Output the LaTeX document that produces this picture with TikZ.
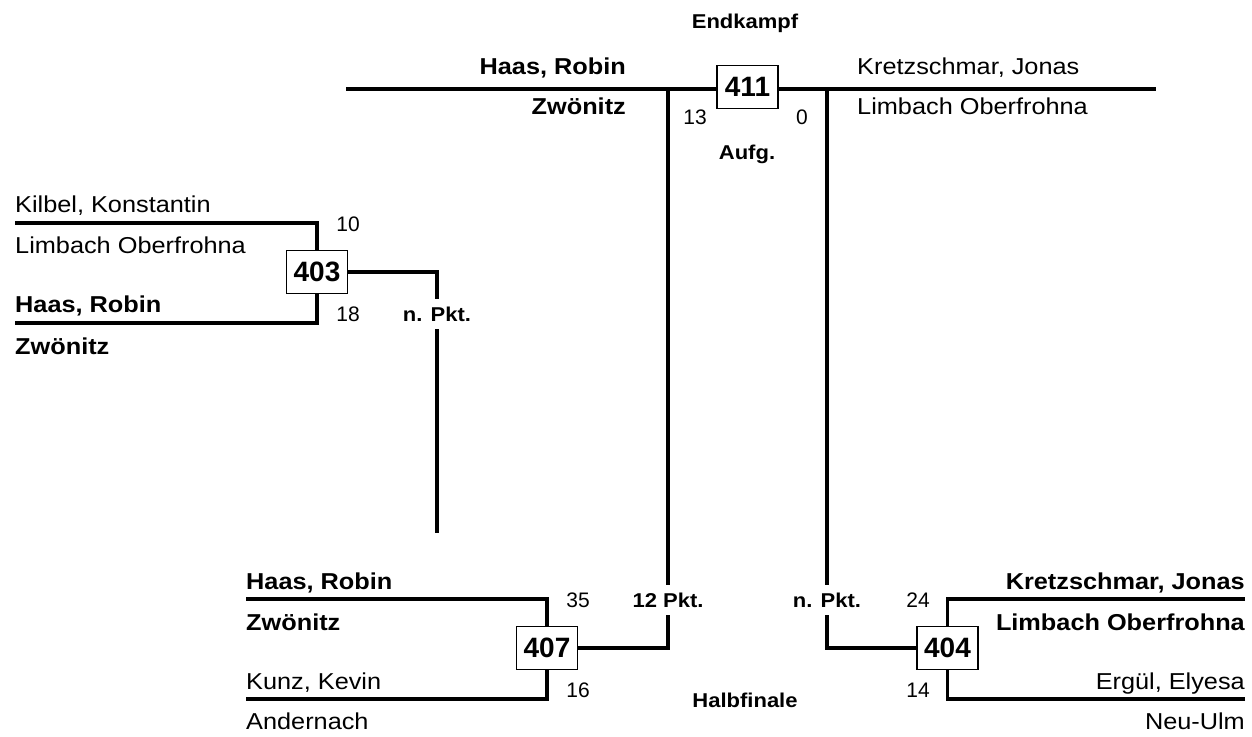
\documentclass[tikz,border=0pt]{standalone}
\usepackage{fontspec}
\setmainfont{Liberation Sans}[FakeStretch=1.1]
\newfontfamily\numfont{Liberation Sans}
\tikzset{%
  bracket/.style={line width=3.2pt},
  bout/.style={               % bout number box
    draw, line width=1.5pt, fill=white,
    minimum width=61pt, minimum height=43pt, inner sep=0pt,
    font=\numfont\bfseries\fontsize{28}{32}\selectfont},
  player/.style={inner sep=0pt, font=\fontsize{23}{27}\selectfont},
  winner/.style={inner sep=0pt, font=\bfseries\fontsize{23}{27}\selectfont},
  score/.style={inner sep=0pt, font=\numfont\fontsize{21}{25}\selectfont},
  result/.style={
    inner xsep=2pt, inner ysep=8pt, text height=14.5pt, text depth=0pt,
    font=\bfseries\fontsize{20}{24}\selectfont},
  stage/.style={inner sep=0pt, anchor=base,
    font=\bfseries\fontsize{20}{24}\selectfont}
}

\begin{document}
\begin{tikzpicture}[x=1pt, y=-1pt]
  \useasboundingbox (0,0) rectangle (1252,736);

  % Endkampf
  \node[stage] (endk) at (745,28) {Endkampf};
  \node[bout] (m411) at (747.5,87) {411};
  \coordinate (f411l) at (346,89);
  \coordinate (f411r) at (1156,89);
  \node[winner, anchor=base east] (p411a) at (626,74) {Haas, Robin};
  \node[winner, anchor=base east] (c411a) at (626,114) {Zwönitz};
  \node[player, anchor=base west] (p411b) at (857,74) {Kretzschmar, Jonas};
  \node[player, anchor=base west] (c411b) at (857,114) {Limbach Oberfrohna};
  \node[score] (s411a) at (695,117) {13};
  \node[score] (s411b) at (802,117) {0};
  \node[stage] (r411) at (747,159) {Aufg.};

  % Kampf 403
  \node[bout] (m403) at (317,272) {403};
  \coordinate (k403a) at (15,223);
  \coordinate (k403b) at (15,323);
  \coordinate (e403) at (437,533);
  \node[player, anchor=base west] (p403a) at (15,212) {Kilbel, Konstantin};
  \node[player, anchor=base west] (c403a) at (15,253) {Limbach Oberfrohna};
  \node[winner, anchor=base west] (p403b) at (15,312) {Haas, Robin};
  \node[winner, anchor=base west] (c403b) at (15,354) {Zwönitz};
  \node[score] (s403a) at (348,224) {10};
  \node[score] (s403b) at (348,314) {18};
  \node[result] (r403) at (437,314) {n. Pkt.};

  % Kampf 407
  \node[bout] (m407) at (547,648) {407};
  \coordinate (k407a) at (246,599);
  \coordinate (k407b) at (246,699);
  \node[winner, anchor=base west] (p407a) at (246,589) {Haas, Robin};
  \node[winner, anchor=base west] (c407a) at (246,630) {Zwönitz};
  \node[player, anchor=base west] (p407b) at (246,689) {Kunz, Kevin};
  \node[player, anchor=base west] (c407b) at (246,729) {Andernach};
  \node[score] (s407a) at (578,600) {35};
  \node[score] (s407b) at (578,690) {16};
  \node[result] (r407) at (668,600) {12 Pkt.};

  \node[stage] (halb) at (745,707) {Halbfinale};

  % Kampf 404
  \node[bout] (m404) at (947.5,648) {404};
  \coordinate (k404a) at (1245,599);
  \coordinate (k404b) at (1245,699);
  \node[winner, anchor=base east] (p404a) at (1245,589) {Kretzschmar, Jonas};
  \node[winner, anchor=base east] (c404a) at (1245,630) {Limbach Oberfrohna};
  \node[player, anchor=base east] (p404b) at (1245,689) {Ergül, Elyesa};
  \node[player, anchor=base east] (c404b) at (1245,729) {Neu-Ulm};
  \node[score] (s404a) at (918,600) {24};
  \node[score] (s404b) at (918,690) {14};
  \node[result] (r404) at (827,600) {n. Pkt.};

  \draw[bracket]
        (f411l) -- (m411.west |- f411l)
        (m411.east |- f411r) -- (f411r)

        (f411l -| r407) -- (r407)
        (r407) -- (r407 |- m407) -- (m407)

        (f411r -| r404) -- (r404)
        (r404) -- (r404 |- m404) -- (m404)

        (k403a) -- (k403a -| m403) -- (m403)
        (k403b) -- (k403b -| m403) -- (m403)
        (m403) -- (m403 -| r403) -- (r403)
        (r403) -- (e403)

        (k407a) -- (k407a -| m407) -- (m407)
        (k407b) -- (k407b -| m407) -- (m407)

        (k404a) -- (k404a -| m404) -- (m404)
        (k404b) -- (k404b -| m404) -- (m404)
  ;

\end{tikzpicture}
\end{document}
